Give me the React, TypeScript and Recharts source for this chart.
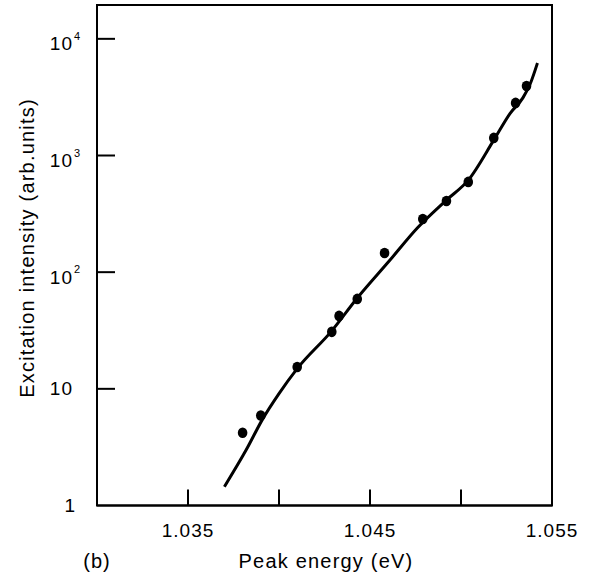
import {
  ComposedChart,
  Label,
  Line,
  ReferenceArea,
  Scatter,
  XAxis,
  YAxis,
} from 'recharts'

// measured points
const peakEnergy = [
  1.038, 1.039, 1.041, 1.0429, 1.0433, 1.0443, 1.0458, 1.0479, 1.0492, 1.0504,
  1.0518, 1.053, 1.0536,
]
const excitation = [4.2, 5.9, 15.4, 30.8, 42.2, 59, 146, 286, 408, 594, 1416, 2823, 3948]

// hand-drawn fit curve
const fitEnergy = [
  1.037, 1.0382, 1.0391, 1.04, 1.041, 1.0429, 1.0443, 1.0461, 1.0476, 1.0492, 1.0504,
  1.0518, 1.0527, 1.0534, 1.0538, 1.0542,
]
const fitIntensity = [
  1.45, 3.0, 5.5, 9.1, 14.9, 31.4, 60, 127, 239, 415, 615, 1355, 2300, 3120, 4100, 6200,
]

const xTicks = [1.035, 1.04, 1.045, 1.05, 1.055]
const xLabelled = ['1.035', '1.045', '1.055']
const yTicks = [1, 10, 100, 1000, 10000]

const FONT = '"Liberation Sans", Arial, Helvetica, sans-serif'

const dots = peakEnergy.map((e, i) => ({ e, v: excitation[i] }))
const fit = fitEnergy.map((e, i) => ({ e, v: fitIntensity[i] }))

function XTick({ x, y, payload }: { x: number; y: number; payload: { value: number } }) {
  const label = payload.value.toFixed(3)
  const isEdge = label === '1.055'
  return (
    <g>
      {!isEdge && <line x1={x} x2={x} y1={y} y2={y - 16} stroke="#000" strokeWidth={2} />}
      {xLabelled.includes(label) && (
        <text
          x={x}
          y={y + 25}
          textAnchor="middle"
          dominantBaseline="central"
          fontSize={19}
          letterSpacing={1}
          fontFamily={FONT}
          fill="#000"
        >
          {label}
        </text>
      )}
    </g>
  )
}

function YTick({ x, y, payload }: { x: number; y: number; payload: { value: number } }) {
  const v = payload.value
  const exp = Math.round(Math.log10(v))
  const textProps = { fontFamily: FONT, fill: '#000', dominantBaseline: 'central' as const }
  return (
    <g>
      {v > 1 && <line x1={x} x2={x + 18} y1={y} y2={y} stroke="#000" strokeWidth={2} />}
      {exp === 0 && (
        <text x={x - 22} y={y} textAnchor="end" fontSize={19} {...textProps}>
          1
        </text>
      )}
      {exp === 1 && (
        <text x={x - 24} y={y} textAnchor="end" fontSize={19} letterSpacing={1} {...textProps}>
          10
        </text>
      )}
      {exp > 1 && (
        <>
          <text x={x - 24} y={y + 5} textAnchor="end" fontSize={19} letterSpacing={1} {...textProps}>
            10
          </text>
          <text x={x - 23} y={y - 3} textAnchor="start" fontSize={11} {...textProps}>
            {exp}
          </text>
        </>
      )}
    </g>
  )
}

function Dot({ cx, cy }: { cx?: number; cy?: number }) {
  return <ellipse cx={cx} cy={cy} rx={4.8} ry={5.3} fill="#000" />
}

export default function App() {
  return (
    <div style={{ position: 'absolute', left: 0, top: 0, background: '#fff' }}>
      <ComposedChart width={602} height={580} margin={{ top: 5, right: 50, bottom: 0, left: 0 }}>
        <XAxis
          dataKey="e"
          type="number"
          domain={[1.03, 1.055]}
          ticks={xTicks}
          interval={0}
          height={74.5}
          tickSize={0}
          tickMargin={0}
          tickLine={false}
          axisLine={{ stroke: '#000', strokeWidth: 2 }}
          tick={XTick}
          allowDataOverflow
        >
          <Label
            content={() => (
              <g fontFamily={FONT} fontSize={20} fill="#000">
                <text x={97} y={561} textAnchor="middle" dominantBaseline="central" letterSpacing={1}>
                  (b)
                </text>
                <text x={326} y={561} textAnchor="middle" dominantBaseline="central" letterSpacing={1.2}>
                  Peak energy (eV)
                </text>
              </g>
            )}
          />
        </XAxis>
        <YAxis
          dataKey="v"
          scale="log"
          domain={[1, 19500]}
          ticks={yTicks}
          interval={0}
          width={97}
          tickSize={0}
          tickMargin={0}
          tickLine={false}
          axisLine={{ stroke: '#000', strokeWidth: 2 }}
          tick={YTick}
          allowDataOverflow
        >
          <Label
            content={() => (
              <text
                x={27}
                y={248}
                transform="rotate(-90 27 248)"
                textAnchor="middle"
                dominantBaseline="central"
                fontFamily={FONT}
                fontSize={20}
                letterSpacing={1.2}
                fill="#000"
              >
                Excitation intensity (arb.units)
              </text>
            )}
          />
        </YAxis>
        <ReferenceArea
          x1={1.03}
          x2={1.055}
          y1={1}
          y2={19500}
          fill="none"
          stroke="#000"
          strokeWidth={2}
          ifOverflow="visible"
        />
        <Line
          data={fit}
          dataKey="v"
          type="monotone"
          stroke="#000"
          strokeWidth={3}
          dot={false}
          activeDot={false}
          isAnimationActive={false}
        />
        <Scatter data={dots} dataKey="v" fill="#000" shape={Dot} isAnimationActive={false} />
      </ComposedChart>
    </div>
  )
}
